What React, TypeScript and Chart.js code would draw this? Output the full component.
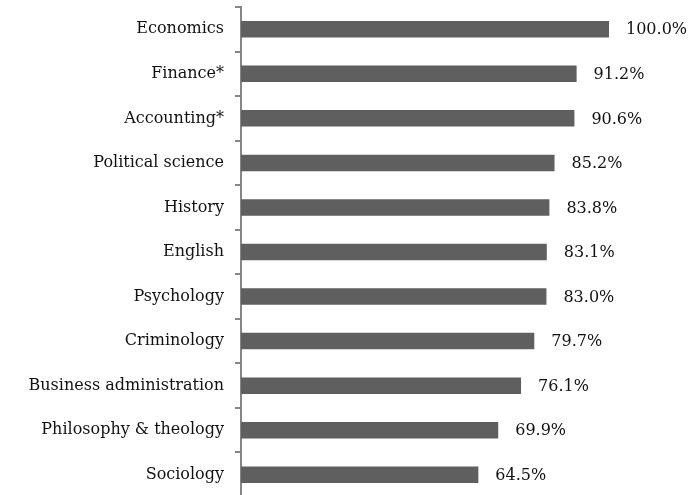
import React, { useEffect, useRef } from "react";
import { Chart, registerables } from "chart.js";

Chart.register(...registerables);

const categories = [
  "Economics",
  "Finance*",
  "Accounting*",
  "Political science",
  "History",
  "English",
  "Psychology",
  "Criminology",
  "Business administration",
  "Philosophy & theology",
  "Sociology",
];
const values = [100.0, 91.2, 90.6, 85.2, 83.8, 83.1, 83.0, 79.7, 76.1, 69.9, 64.5];
const valueLabels = values.map((v) => v.toFixed(1) + "%");

const FONT = "'DejaVu Serif', serif";

const valueLabelPlugin = {
  id: "valueLabels",
  afterDatasetsDraw(chart: any) {
    const ctx = chart.ctx;
    const meta = chart.getDatasetMeta(0);
    ctx.save();
    ctx.font = `16px ${FONT}`;
    ctx.fillStyle = "#111111";
    ctx.textAlign = "left";
    ctx.textBaseline = "middle";
    meta.data.forEach((bar: any, i: number) => {
      ctx.fillText(valueLabels[i], bar.x + 17, bar.y + 1);
    });
    ctx.restore();
  },
};

export default function App() {
  const ref = useRef<HTMLCanvasElement>(null);
  useEffect(() => {
    if (!ref.current) return;
    const chart = new Chart(ref.current, {
      type: "bar",
      data: {
        labels: categories,
        datasets: [
          {
            data: values,
            backgroundColor: "#5f5f5f",
            borderWidth: 0,
            barPercentage: 0.37,
            categoryPercentage: 1,
          },
        ],
      },
      options: {
        indexAxis: "y",
        animation: false,
        responsive: false,
        maintainAspectRatio: false,
        layout: { padding: { top: 7, right: 80, bottom: 0, left: 0 } },
        plugins: {
          legend: { display: false },
          tooltip: { enabled: false },
        },
        scales: {
          x: {
            display: false,
            min: 0,
            max: 100,
          },
          y: {
            afterFit: (scale: any) => {
              scale.width = 241;
              scale.paddingTop = 0;
              scale.paddingBottom = 0;
            },
            border: { display: true, color: "#868686", width: 2 },
            grid: {
              display: true,
              drawOnChartArea: false,
              drawTicks: true,
              tickLength: 6,
              color: "#868686",
              lineWidth: 2,
              offset: true,
            },
            ticks: {
              color: "#111111",
              padding: 11,
              font: { family: FONT, size: 16 },
            },
          },
        },
      },
      plugins: [valueLabelPlugin],
    });
    return () => chart.destroy();
  }, []);
  return (
    <div style={{ position: "fixed", left: 0, top: 0, width: 689, height: 497, background: "#fff" }}>
      <canvas ref={ref} width={689} height={497} />
    </div>
  );
}
